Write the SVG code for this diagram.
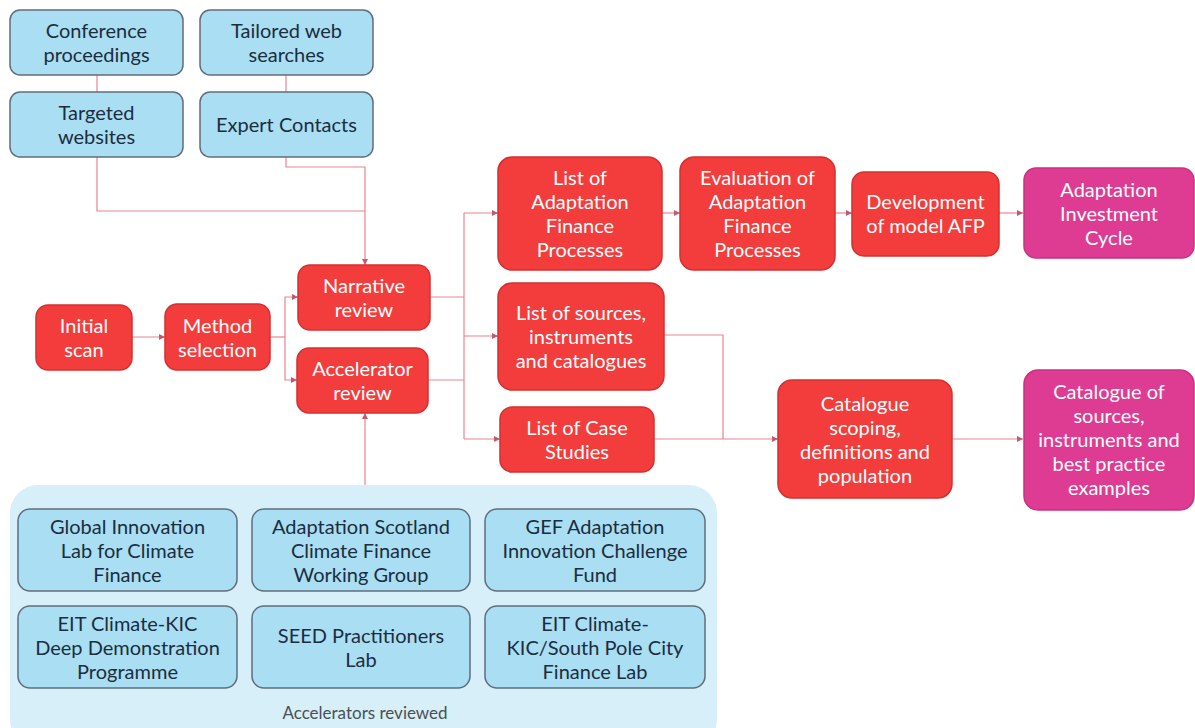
<svg xmlns="http://www.w3.org/2000/svg" width="1195" height="728" viewBox="0 0 1195 728">
  <style>
    text { font-family: Lato, "Open Sans", "Liberation Sans", sans-serif; font-size: 20px; text-anchor: middle; }
    .red rect { fill: #f23d3c; stroke: #d52f2f; stroke-width: 1.5; }
    .mag rect { fill: #de3b93; stroke: #c9327f; stroke-width: 1.5; }
    .red text, .mag text { fill: #ffffff; }
    .blue rect { fill: #a9def3; stroke: #5f6d7c; stroke-width: 1.5; }
    .blue text { fill: #1c2d3e; }
    .caption { font-size: 17px; fill: #4a4f55; }
    .conn path { fill: none; stroke: #e8848e; stroke-width: 1.2; }
    .conn path.arr { marker-end: url(#tip); }
  </style>
  <defs>
    <marker id="tip" viewBox="0 0 10 10" refX="10" refY="5" markerWidth="6" markerHeight="6" markerUnits="userSpaceOnUse" orient="auto">
      <path d="M0,0 L10,5 L0,10 Z" fill="#c25a6c"/>
    </marker>
  </defs>
  <rect width="1195" height="728" fill="#ffffff"/>

  <!-- accelerator container -->
  <g id="accelerators-group">
    <rect x="10" y="485" width="707" height="262" rx="28" fill="#d6eff9"/>
    <text class="caption" x="365" y="719">Accelerators reviewed</text>
  </g>

  <!-- connectors -->
  <g id="connectors" class="conn">
    <path d="M97,75 V92"/>
    <path d="M286,75 V92"/>
    <path d="M97,157 V211 H365"/>
    <path class="arr" d="M286,157 V167 H365 V265"/>
    <path class="arr" d="M132,337 H165"/>
    <path d="M270,337 H285"/>
    <path class="arr" d="M285,337 V297 H298"/>
    <path class="arr" d="M285,337 V380 H297"/>
    <path d="M430,297 H464"/>
    <path d="M428,380 H464"/>
    <path d="M464,213 V439"/>
    <path class="arr" d="M464,213 H498"/>
    <path class="arr" d="M464,336 H498"/>
    <path class="arr" d="M464,439 H500"/>
    <path class="arr" d="M662,213 H680"/>
    <path class="arr" d="M835,213 H852"/>
    <path class="arr" d="M999,213 H1023"/>
    <path d="M664,335 H723 V439"/>
    <path class="arr" d="M654,439 H778"/>
    <path class="arr" d="M952,439 H1023"/>
    <path class="arr" d="M365,485 V413"/>
  </g>

  <!-- search sources -->
  <g id="conference-proceedings" class="blue">
    <rect x="10" y="10" width="173" height="65" rx="10"/>
    <text x="96.5" y="38">Conference</text>
    <text x="96.5" y="62">proceedings</text>
  </g>
  <g id="tailored-web-searches" class="blue">
    <rect x="200" y="10" width="173" height="65" rx="10"/>
    <text x="286.5" y="38">Tailored web</text>
    <text x="286.5" y="62">searches</text>
  </g>
  <g id="targeted-websites" class="blue">
    <rect x="10" y="92" width="173" height="65" rx="10"/>
    <text x="96.5" y="120">Targeted</text>
    <text x="96.5" y="144">websites</text>
  </g>
  <g id="expert-contacts" class="blue">
    <rect x="200" y="92" width="173" height="65" rx="10"/>
    <text x="286.5" y="132">Expert Contacts</text>
  </g>

  <!-- main process -->
  <g id="initial-scan" class="red">
    <rect x="36" y="305" width="96" height="65" rx="12"/>
    <text x="84" y="333">Initial</text>
    <text x="84" y="357">scan</text>
  </g>
  <g id="method-selection" class="red">
    <rect x="165" y="304" width="105" height="66" rx="12"/>
    <text x="217.5" y="333">Method</text>
    <text x="217.5" y="357">selection</text>
  </g>
  <g id="narrative-review" class="red">
    <rect x="298" y="265" width="132" height="65" rx="12"/>
    <text x="364" y="293">Narrative</text>
    <text x="364" y="317">review</text>
  </g>
  <g id="accelerator-review" class="red">
    <rect x="297" y="348" width="131" height="65" rx="12"/>
    <text x="362.5" y="376">Accelerator</text>
    <text x="362.5" y="400">review</text>
  </g>
  <g id="list-afp" class="red">
    <rect x="498" y="157" width="164" height="113" rx="14"/>
    <text x="580" y="185">List of</text>
    <text x="580" y="209">Adaptation</text>
    <text x="580" y="233">Finance</text>
    <text x="580" y="257">Processes</text>
  </g>
  <g id="evaluation-afp" class="red">
    <rect x="680" y="157" width="155" height="113" rx="14"/>
    <text x="757.5" y="185">Evaluation of</text>
    <text x="757.5" y="209">Adaptation</text>
    <text x="757.5" y="233">Finance</text>
    <text x="757.5" y="257">Processes</text>
  </g>
  <g id="development-model-afp" class="red">
    <rect x="852" y="172" width="147" height="84" rx="12"/>
    <text x="925.5" y="209">Development</text>
    <text x="925.5" y="233">of model AFP</text>
  </g>
  <g id="adaptation-investment-cycle" class="mag">
    <rect x="1024" y="168" width="170" height="90" rx="12"/>
    <text x="1109" y="197">Adaptation</text>
    <text x="1109" y="221">Investment</text>
    <text x="1109" y="245">Cycle</text>
  </g>
  <g id="list-sources" class="red">
    <rect x="498" y="283" width="166" height="107" rx="14"/>
    <text x="581" y="320">List of sources,</text>
    <text x="581" y="344">instruments</text>
    <text x="581" y="368">and catalogues</text>
  </g>
  <g id="list-case-studies" class="red">
    <rect x="500" y="407" width="154" height="65" rx="12"/>
    <text x="577" y="435">List of Case</text>
    <text x="577" y="459">Studies</text>
  </g>
  <g id="catalogue-scoping" class="red">
    <rect x="778" y="380" width="174" height="118" rx="14"/>
    <text x="865" y="411">Catalogue</text>
    <text x="865" y="435">scoping,</text>
    <text x="865" y="459">definitions and</text>
    <text x="865" y="483">population</text>
  </g>
  <g id="catalogue-output" class="mag">
    <rect x="1024" y="370" width="170" height="140" rx="14"/>
    <text x="1109" y="399">Catalogue of</text>
    <text x="1109" y="423">sources,</text>
    <text x="1109" y="447">instruments and</text>
    <text x="1109" y="471">best practice</text>
    <text x="1109" y="495">examples</text>
  </g>

  <!-- accelerators -->
  <g id="global-innovation-lab" class="blue">
    <rect x="18" y="509" width="219" height="82" rx="12"/>
    <text x="127.5" y="534">Global Innovation</text>
    <text x="127.5" y="558">Lab for Climate</text>
    <text x="127.5" y="582">Finance</text>
  </g>
  <g id="adaptation-scotland" class="blue">
    <rect x="252" y="509" width="218" height="82" rx="12"/>
    <text x="361" y="534">Adaptation Scotland</text>
    <text x="361" y="558">Climate Finance</text>
    <text x="361" y="582">Working Group</text>
  </g>
  <g id="gef-challenge-fund" class="blue">
    <rect x="485" y="509" width="220" height="82" rx="12"/>
    <text x="595" y="534">GEF Adaptation</text>
    <text x="595" y="558">Innovation Challenge</text>
    <text x="595" y="582">Fund</text>
  </g>
  <g id="eit-deep-demonstration" class="blue">
    <rect x="18" y="606" width="219" height="82" rx="12"/>
    <text x="127.5" y="631">EIT Climate-KIC</text>
    <text x="127.5" y="655">Deep Demonstration</text>
    <text x="127.5" y="679">Programme</text>
  </g>
  <g id="seed-lab" class="blue">
    <rect x="252" y="606" width="218" height="82" rx="12"/>
    <text x="361" y="643">SEED Practitioners</text>
    <text x="361" y="667">Lab</text>
  </g>
  <g id="eit-south-pole" class="blue">
    <rect x="485" y="606" width="220" height="82" rx="12"/>
    <text x="595" y="631">EIT Climate-</text>
    <text x="595" y="655">KIC/South Pole City</text>
    <text x="595" y="679">Finance Lab</text>
  </g>
</svg>
